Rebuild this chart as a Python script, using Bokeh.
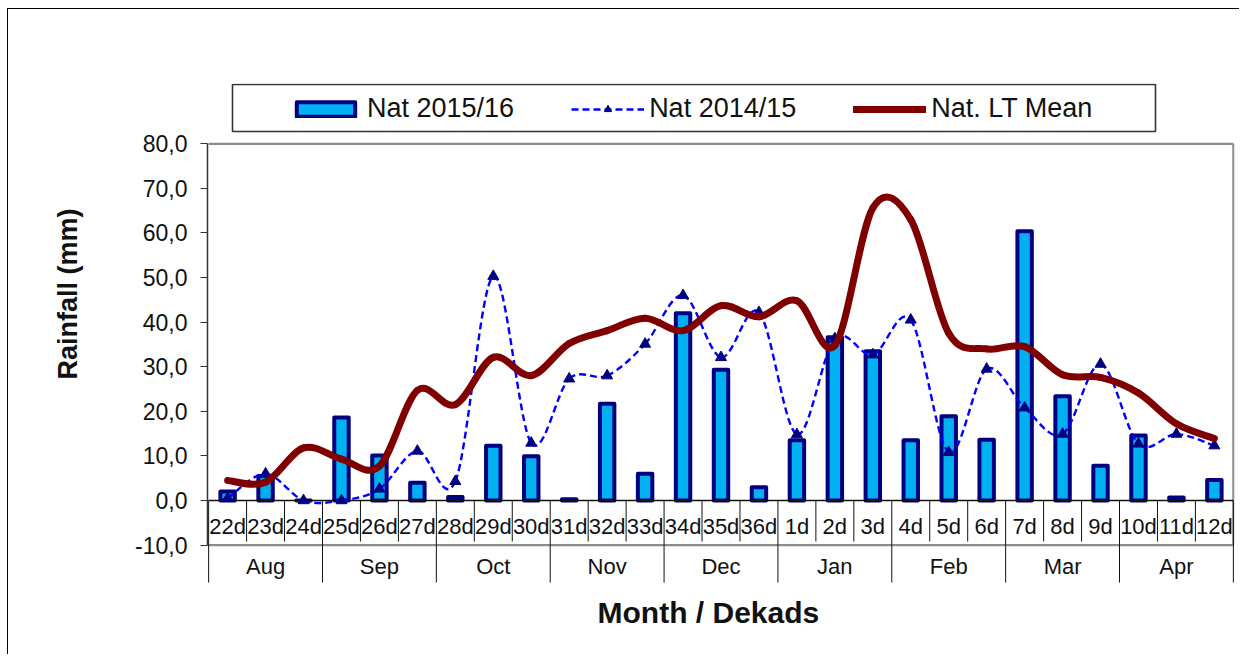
import numpy as np
from bokeh.plotting import figure
from bokeh.models import (ColumnDataSource, FixedTicker, Legend, LegendItem,
                          BoxAnnotation, Title, Range1d)
from bokeh.core.properties import value
from bokeh.embed import file_html
from bokeh.resources import INLINE

# ---------------- data ----------------
dekads = ["22d", "23d", "24d", "25d", "26d", "27d", "28d", "29d", "30d",
          "31d", "32d", "33d", "34d", "35d", "36d", "1d", "2d", "3d",
          "4d", "5d", "6d", "7d", "8d", "9d", "10d", "11d", "12d"]
months = ["Aug", "Sep", "Oct", "Nov", "Dec", "Jan", "Feb", "Mar", "Apr"]
nat_2015_16 = [2.0, 5.5, 0.0, 18.6, 10.1, 4.0, 0.8, 12.3, 9.9,
               0.3, 21.7, 6.0, 42.0, 29.3, 3.0, 13.5, 36.6, 33.5,
               13.5, 18.9, 13.6, 60.4, 23.4, 7.8, 14.6, 0.7, 4.6]
nat_2014_15 = [0.5, 6.0, 0.0, 0.0, 2.6, 11.1, 4.3, 50.3, 12.9,
               27.3, 28.0, 35.1, 46.0, 32.1, 42.2, 14.8, 36.3, 32.7,
               40.5, 10.8, 29.5, 20.8, 14.9, 30.6, 12.7, 14.9, 12.3]
nat_lt_mean = [4.5, 4.1, 11.8, 9.3, 7.7, 24.7, 21.5, 32.1, 28.0,
               35.2, 38.1, 40.9, 38.1, 43.7, 41.2, 44.8, 34.8, 65.6,
               63.0, 37.5, 34.0, 34.5, 28.2, 27.6, 24.1, 17.2, 13.9]
y_ticks = [-10, 0, 10, 20, 30, 40, 50, 60, 70, 80]
series_labels = ["Nat 2015/16", "Nat 2014/15", "Nat. LT Mean"]

FONT = "Liberation Sans"
n = len(dekads)
xc = np.arange(n) + 0.5


def bezier_source(vals):
    """Smoothed-line control points (Catmull-Rom style, as in Excel)."""
    v = np.asarray(vals, dtype=float)
    i = np.arange(n - 1)
    prev = np.clip(i - 1, 0, n - 1)
    nxt2 = np.clip(i + 2, 0, n - 1)
    return ColumnDataSource(dict(
        x0=xc[i], y0=v[i], x1=xc[i + 1], y1=v[i + 1],
        cx0=xc[i] + (xc[i + 1] - xc[prev]) / 6.0,
        cy0=v[i] + (v[i + 1] - v[prev]) / 6.0,
        cx1=xc[i + 1] - (xc[nxt2] - xc[i]) / 6.0,
        cy1=v[i + 1] - (v[nxt2] - v[i]) / 6.0,
    ))


p = figure(width=1239, height=654, output_backend="svg", toolbar_location=None,
           x_axis_type=None,
           x_range=Range1d(-0.03, 27.03), y_range=Range1d(-18.61, 93.52),
           min_border_left=207, min_border_right=5,
           min_border_top=83, min_border_bottom=71)
p.outline_line_color = None
p.ygrid.grid_line_color = None
p.background_fill_color = "white"
p.border_fill_color = None
p.styles = {"box-shadow": "inset 7px 8px 0 0 #ffffff, inset 8px 9px 0 0 #000000",
            "background-color": "#ffffff"}

# y axis
ya = p.yaxis[0]
ya.ticker = FixedTicker(ticks=y_ticks)
ya.major_label_overrides = {t: f"{t},0" for t in y_ticks}
ya.bounds = (-10, 80)
ya.axis_line_color = "#333333"
ya.axis_line_width = 1.5
ya.major_tick_line_color = "#333333"
ya.major_tick_in = 0
ya.major_tick_out = 7
ya.minor_tick_line_color = None
ya.major_label_standoff = 13
ya.major_label_text_font = FONT
ya.major_label_text_font_size = "23px"
ya.major_label_text_color = "#111111"

# y-axis title (placed like the original, above the plot centre)
p.add_layout(Title(text="Rainfall (mm)", align="right", offset=125, standoff=100,
                   text_font=FONT, text_font_size="27px", text_font_style="bold",
                   text_color="#111111"), "left")

# plot-area border (grey)
p.segment(x0=[0, 27, 0], y0=[80, -10, -10], x1=[27, 27, 27], y1=[80, 80, -10],
          line_color="#8c8c8c", line_width=2.2)

# bars
bars = p.vbar(x=xc, top=nat_2015_16, bottom=0, width=0.38,
              fill_color="#00B0F0", line_color="#000080", line_width=4,
              line_join="round")

# category axis at zero + separators
p.segment(x0=[0], y0=[0], x1=[27], y1=[0], line_color="#111111", line_width=1.3)
inner = [k for k in range(1, n) if k % 3 != 0]
p.segment(x0=inner, y0=[0] * len(inner), x1=inner, y1=[-9.2] * len(inner),
          line_color="#111111", line_width=1)
mb = list(range(0, n + 1, 3))
p.segment(x0=mb, y0=[0] * len(mb), x1=mb, y1=[-18.4] * len(mb),
          line_color="#111111", line_width=1)

p.text(x=xc, y=[-5.85] * n, text=dekads, text_align="center",
       text_baseline="alphabetic", text_font=value(FONT),
       text_font_size="22px", text_color="#111111")
mx = np.arange(len(months)) * 3 + 1.5
p.text(x=mx, y=[-14.9] * len(months), text=months, text_align="center",
       text_baseline="alphabetic", text_font=value(FONT),
       text_font_size="22px", text_color="#111111")

# Nat 2014/15 dashed smoothed line with triangles
src14 = bezier_source(nat_2014_15)
dash_r = p.bezier(x0="x0", y0="y0", x1="x1", y1="y1", cx0="cx0", cy0="cy0",
                  cx1="cx1", cy1="cy1", source=src14,
                  line_color="#0000FF", line_width=2.4, line_dash="7 4")
tri_r = p.scatter(x=xc, y=nat_2014_15, marker="triangle", size=11,
                  fill_color="#000080", line_color="#000080")

# LT mean thick smoothed line
srclt = bezier_source(nat_lt_mean)
lt_r = p.bezier(x0="x0", y0="y0", x1="x1", y1="y1", cx0="cx0", cy0="cy0",
                cx1="cx1", cy1="cy1", source=srclt,
                line_color="#800000", line_width=7, line_cap="round")

# legend
legend = Legend(items=[LegendItem(label=series_labels[0], renderers=[bars]),
                       LegendItem(label=series_labels[1], renderers=[dash_r, tri_r]),
                       LegendItem(label=series_labels[2], renderers=[lt_r])],
                orientation="horizontal", location=(82, 459), padding=8,
                spacing=57, glyph_width=73, glyph_height=18, label_standoff=5,
                label_height=31, margin=0,
                label_text_font=FONT, label_text_font_size="27px",
                label_text_color="#111111",
                border_line_color=None, background_fill_alpha=0)
p.add_layout(legend)
# legend frame (screen units are measured from the frame's bottom-left)
p.add_layout(BoxAnnotation(left=25, right=948, top=499, bottom=452,
                           left_units="screen", right_units="screen",
                           top_units="screen", bottom_units="screen",
                           fill_alpha=0, line_color="#333333", line_alpha=1.0,
                           line_width=1.6))

# x-axis title
p.add_layout(Title(text="Month / Dekads", align="left", offset=390, standoff=20,
                   text_font=FONT, text_font_size="30px", text_font_style="bold",
                   text_color="#111111"), "below")

open("out.html", "w").write(file_html(p, INLINE))
